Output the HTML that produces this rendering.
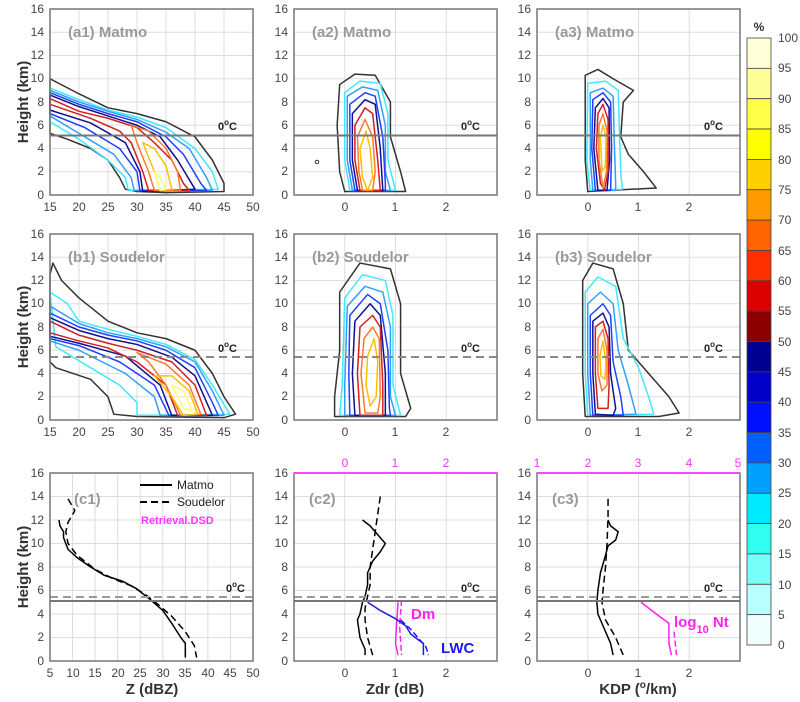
<!DOCTYPE html>
<html><head><meta charset="utf-8"><style>
html,body{margin:0;padding:0;background:#fff;}
svg{display:block;font-family:"Liberation Sans",sans-serif;}
.c{fill:none;stroke-width:1.5;vector-effect:non-scaling-stroke;stroke-linejoin:round;}
.g{stroke:#ddd;stroke-width:1;vector-effect:non-scaling-stroke;}
.t{font-size:12px;fill:#444;}
.tt{font-size:15px;font-weight:bold;fill:#999;}
.yl{font-size:15px;font-weight:bold;fill:#333;}
.fr{fill:none;stroke:#777;stroke-width:1.5;}
.oc{font-size:11px;font-weight:bold;fill:#222;}
</style></head><body>
<svg width="800" height="702" viewBox="0 0 800 702">
<defs>
<g id="gr1"><path class="g" d="M20,0V16M25,0V16M30,0V16M35,0V16M40,0V16M45,0V16M15,2H50M15,4H50M15,6H50M15,8H50M15,10H50M15,12H50M15,14H50"/></g>
<g id="gr2"><path class="g" d="M0,0V16M1,0V16M2,0V16M-1,2H3M-1,4H3M-1,6H3M-1,8H3M-1,10H3M-1,12H3M-1,14H3"/></g>
</defs>

<!-- ========== ROW A ========== -->
<g transform="translate(50,195) scale(5.8,-11.625) translate(-15,0)">
<use href="#gr1"/>
<polygon class="c" stroke="#333" points="15,10 20,8.7 25,7.5 30,7 35,6.3 40,5 43,3 45,1 45,0.3 35,0.2 30,0.3 28,0.5 27,1.5 25,3 22,4 18,4.8 15,5.3"/>
<polygon class="c" stroke="#40e8ff" points="15,9.2 20,8.2 25,7.3 30,6.7 35,5.8 40,4 43,2 44,0.5 28.5,0.4 28,1.5 25,3 20,4.8 15,6.3"/>
<polygon class="c" stroke="#30a0ff" points="15,9 20,8 25,7.2 30,6.5 35,5.4 39,4 42,1.5 43,0.4 29.5,0.4 29,1.5 26,3.5 20,5.3 15,6.8"/>
<polygon class="c" stroke="#2040ff" points="15,8.8 20,7.8 25,7 30,6.3 35,5 38,3.5 41,1 42,0.4 30.5,0.4 30,2 27,4 21,5.8 15,7"/>
<polygon class="c" stroke="#101090" points="15,8.6 20,7.6 25,6.8 30,6 34,5 37,3 40,0.5 31,0.3 30.5,2 28,4.5 22,6.2 15,7.3"/>
<polygon class="c" stroke="#d02020" points="15,8.3 20,7.2 25,6.6 30,5.8 33,4.5 36,3 38,1 39,0.4 32,0.4 31,2 29,4.5 27,5.5 22,6.6 15,7.8"/>
<polygon class="c" stroke="#ff7a30" points="29,6 32,5.5 35,4 37,2 37.5,0.4 33,0.4 32,2 30,4.5"/>
<polygon class="c" stroke="#ffc000" points="31,4.5 33,4 35,2.5 36,0.5 34,0.4 33,2"/>
<polygon class="c" stroke="#ffff70" points="33,2 34,1.5 35,0.5 34,0.4"/>
</g>
<line x1="50" y1="135.5" x2="253" y2="135.5" stroke="#777" stroke-width="2"/>
<text x="218" y="130" class="oc">0<tspan dy="-5" font-size="8">o</tspan><tspan dy="5">C</tspan></text>
<rect class="fr" x="50" y="9" width="203" height="186"/>
<text class="tt" x="68" y="37">(a1) Matmo</text>

<g transform="translate(294,195) scale(50.75,-11.625) translate(1,0)">
<use href="#gr2"/>
<polygon class="c" stroke="#333" points="-0.1,9.5 0.2,10.4 0.6,10.3 0.9,8 0.9,5 1.1,2 1.2,0.3 0,0.3 -0.1,2 -0.15,6"/>
<polygon class="c" stroke="#40e8ff" points="0,8.8 0.3,9.8 0.7,9.6 0.85,7 0.85,3 1,0.4 0.1,0.4 0,3"/>
<polygon class="c" stroke="#30a0ff" points="0.05,8.5 0.35,9.3 0.65,9 0.8,6 0.8,2 0.9,0.4 0.15,0.4 0.05,3"/>
<polygon class="c" stroke="#2040ff" points="0.1,7.8 0.4,8.8 0.6,8.5 0.75,5 0.8,1 0.8,0.4 0.2,0.4 0.1,3"/>
<polygon class="c" stroke="#101090" points="0.15,7 0.4,8.2 0.6,7.8 0.7,4 0.75,0.4 0.25,0.4 0.15,3"/>
<polygon class="c" stroke="#d02020" points="0.2,6 0.4,7.5 0.55,7 0.65,3 0.7,0.4 0.3,0.4 0.2,3"/>
<polygon class="c" stroke="#ff7a30" points="0.25,5 0.4,6.5 0.55,5 0.6,2 0.55,0.4 0.35,0.4 0.28,2"/>
<polygon class="c" stroke="#ffc000" points="0.3,4 0.42,5.5 0.5,4 0.55,1.5 0.45,0.4 0.35,1.5"/>
</g>
<circle cx="317" cy="162" r="1.8" fill="none" stroke="#333"/>
<line x1="294" y1="135.5" x2="497" y2="135.5" stroke="#777" stroke-width="2"/>
<text x="461" y="130" class="oc">0<tspan dy="-5" font-size="8">o</tspan><tspan dy="5">C</tspan></text>
<rect class="fr" x="294" y="9" width="203" height="186"/>
<text class="tt" x="312" y="37">(a2) Matmo</text>

<g transform="translate(537,195) scale(50.75,-11.625) translate(1,0)">
<use href="#gr2"/>
<polygon class="c" stroke="#333" points="-0.05,10.3 0.2,10.8 0.5,10 0.9,9 0.7,8 0.65,5 0.8,3.5 1.1,2 1.35,0.6 0,0.3 -0.05,3"/>
<polygon class="c" stroke="#40e8ff" points="0,9.6 0.35,9.8 0.6,9 0.62,6 0.65,2 0.68,0.5 0.05,0.4 -0.02,3"/>
<polygon class="c" stroke="#30a0ff" points="0.05,8.8 0.3,9.2 0.5,8.5 0.52,5 0.55,1 0.55,0.4 0.1,0.4 0.05,3"/>
<polygon class="c" stroke="#2040ff" points="0.1,8.2 0.3,8.8 0.45,8 0.47,4 0.45,0.4 0.15,0.4 0.08,4"/>
<polygon class="c" stroke="#101090" points="0.15,7.5 0.3,8.3 0.42,7.5 0.43,3 0.38,0.4 0.2,0.4 0.12,4"/>
<polygon class="c" stroke="#d02020" points="0.2,7 0.3,7.8 0.4,6.5 0.4,2 0.33,0.4 0.25,1 0.17,4"/>
<polygon class="c" stroke="#ff7a30" points="0.22,6 0.3,7 0.38,5.5 0.37,2 0.3,0.6 0.22,3"/>
<polygon class="c" stroke="#ffc000" points="0.25,5 0.3,6 0.36,5 0.35,2.5 0.28,2"/>
</g>
<line x1="537" y1="135.5" x2="740" y2="135.5" stroke="#777" stroke-width="2"/>
<text x="704" y="130" class="oc">0<tspan dy="-5" font-size="8">o</tspan><tspan dy="5">C</tspan></text>
<rect class="fr" x="537" y="9" width="203" height="186"/>
<text class="tt" x="555" y="37">(a3) Matmo</text>

<!-- ========== ROW B ========== -->
<g transform="translate(50,420) scale(5.8,-11.625) translate(-15,0)">
<use href="#gr1"/>
<polygon class="c" stroke="#333" points="15,12.5 15.5,13.5 17,12 20,10.5 25,8.5 30,7.5 35,7 40,6 43,4 45,2 47,0.5 45,0.2 30,0.3 26,0.5 25,2 22,3.5 16,4.5 15,5"/>
<polygon class="c" stroke="#40e8ff" points="15,11 18,10 20,8.5 25,7.8 30,7.2 35,6.5 40,5.2 43,3 46,0.5 30,0.4 30,1.5 27,3 22,4.5 16,6.3"/>
<polygon class="c" stroke="#30a0ff" points="15,9.8 20,8.3 25,7.5 30,7 35,6.3 40,5 43,2.5 45,0.4 34,0.4 33,2 28,4 20,6 15,6.8"/>
<polygon class="c" stroke="#2040ff" points="15,9.2 20,8 25,7.3 30,6.8 35,6 40,4.5 43,1.5 44,0.4 35.5,0.4 33,3 27,5 20,6.4 15,7"/>
<polygon class="c" stroke="#101090" points="15,8.8 20,7.7 25,7 30,6.5 36,5.4 40,3.8 43,0.4 36,0.4 34,3 28,5.5 20,6.6 15,7.2"/>
<polygon class="c" stroke="#d02020" points="15,8.5 20,7.3 25,6.6 30,6 36,5 40,3 42,0.4 37,0.4 35,3 30,5 25,6.2 20,6.8 15,7.5"/>
<polygon class="c" stroke="#ff7a30" points="30,5.8 35,4.8 39,3 41,0.5 37.5,0.4 35,3 32,5"/>
<polygon class="c" stroke="#ffc000" points="33,3.8 36,3.8 39,2.5 40.5,0.5 38,0.4 36,2"/>
<polygon class="c" stroke="#ffff70" points="36,3 38,2.5 39.5,0.8 38,1"/>
</g>
<line x1="50" y1="357" x2="253" y2="357" stroke="#888" stroke-width="2" stroke-dasharray="8,5"/>
<text x="218" y="352" class="oc">0<tspan dy="-5" font-size="8">o</tspan><tspan dy="5">C</tspan></text>
<rect class="fr" x="50" y="234" width="203" height="186"/>
<text class="tt" x="68" y="262">(b1) Soudelor</text>

<g transform="translate(294,420) scale(50.75,-11.625) translate(1,0)">
<use href="#gr2"/>
<polygon class="c" stroke="#333" points="-0.1,11 0.3,13.5 0.9,13 1.1,10 1.1,4 1.3,1 1.2,0.3 -0.2,0.3 -0.2,2 -0.1,6"/>
<polygon class="c" stroke="#40e8ff" points="0,10.5 0.35,12.5 0.8,12 0.95,9 0.95,3 1.1,0.4 -0.1,0.4 -0.05,3"/>
<polygon class="c" stroke="#30a0ff" points="0.05,9.8 0.4,11.5 0.75,11 0.9,8 0.9,2 1,0.4 0,0.4 0,3"/>
<polygon class="c" stroke="#2040ff" points="0.1,9 0.45,10.8 0.7,10 0.85,6 0.88,1 0.9,0.4 0.1,0.4 0.08,4"/>
<polygon class="c" stroke="#101090" points="0.2,8.5 0.5,10 0.7,9 0.8,4 0.8,0.4 0.2,0.4 0.15,4"/>
<polygon class="c" stroke="#d02020" points="0.3,8 0.55,9 0.7,8 0.75,3 0.75,0.4 0.3,0.4 0.25,4"/>
<polygon class="c" stroke="#ff7a30" points="0.38,7 0.55,8 0.68,7 0.7,2 0.65,0.6 0.4,0.6 0.32,4"/>
<polygon class="c" stroke="#ffc000" points="0.45,5.5 0.58,7 0.65,5 0.62,2 0.5,1.2 0.42,3"/>
</g>
<line x1="294" y1="357" x2="497" y2="357" stroke="#888" stroke-width="2" stroke-dasharray="8,5"/>
<text x="461" y="352" class="oc">0<tspan dy="-5" font-size="8">o</tspan><tspan dy="5">C</tspan></text>
<rect class="fr" x="294" y="234" width="203" height="186"/>
<text class="tt" x="312" y="262">(b2) Soudelor</text>

<g transform="translate(537,420) scale(50.75,-11.625) translate(1,0)">
<use href="#gr2"/>
<polygon class="c" stroke="#333" points="-0.1,12 0.1,13.5 0.5,13 0.7,10 0.8,6 1.2,4 1.6,2 1.8,0.6 1.4,0.3 -0.05,0.3 -0.1,4"/>
<polygon class="c" stroke="#40e8ff" points="-0.05,11 0.2,12.3 0.55,11.5 0.7,7 1,4.5 1.2,2 1.3,0.5 0,0.4 -0.05,4"/>
<polygon class="c" stroke="#30a0ff" points="0,10 0.25,11 0.5,10 0.6,6 0.8,3 0.95,0.5 0.05,0.4 0,4"/>
<polygon class="c" stroke="#2040ff" points="0.05,9 0.3,10 0.45,9 0.5,5 0.65,2 0.7,0.4 0.1,0.4 0.05,4"/>
<polygon class="c" stroke="#101090" points="0.1,8.5 0.3,9.2 0.42,8 0.45,4 0.55,1 0.5,0.4 0.15,0.5 0.1,4"/>
<polygon class="c" stroke="#d02020" points="0.15,8 0.3,8.5 0.4,7 0.42,3 0.4,1 0.2,1 0.15,4"/>
<polygon class="c" stroke="#ff7a30" points="0.2,7 0.3,7.8 0.38,6 0.38,3 0.28,2.5 0.2,4"/>
<polygon class="c" stroke="#ffc000" points="0.24,5.5 0.3,6.8 0.36,5 0.34,3.5 0.26,3.8"/>
</g>
<line x1="537" y1="357" x2="740" y2="357" stroke="#888" stroke-width="2" stroke-dasharray="8,5"/>
<text x="704" y="352" class="oc">0<tspan dy="-5" font-size="8">o</tspan><tspan dy="5">C</tspan></text>
<rect class="fr" x="537" y="234" width="203" height="186"/>
<text class="tt" x="555" y="262">(b3) Soudelor</text>

<!-- ========== ROW C ========== -->
<g transform="translate(50,661) scale(4.511,-11.75) translate(-5,0)">
<path class="g" d="M10,0V16M15,0V16M20,0V16M25,0V16M30,0V16M35,0V16M40,0V16M45,0V16M5,2H50M5,4H50M5,6H50M5,8H50M5,10H50M5,12H50M5,14H50"/>
<polyline class="c" stroke="#000" stroke-width="2" points="7,12 7.2,11.5 8,11 8,10.5 9,9.5 11,8.8 14,8 17,7.3 21,6.8 24,6.2 27,5.3 30,4.3 32,3.2 34,2 35,1.5 35,0.3"/>
<polyline class="c" stroke="#000" stroke-width="2" stroke-dasharray="7,4" points="9,13.8 10.5,12.8 9,11.8 8.5,11 9,10 11,9 15,7.8 19,7 23,6.4 26,5.7 29,4.8 32,3.8 35,2.5 37,1.3 37.5,0.3"/>
</g>
<line x1="50" y1="601" x2="253" y2="601" stroke="#777" stroke-width="2"/>
<line x1="50" y1="597" x2="253" y2="597" stroke="#999" stroke-width="2" stroke-dasharray="8,5"/>
<text x="226" y="592" class="oc">0<tspan dy="-5" font-size="8">o</tspan><tspan dy="5">C</tspan></text>
<rect class="fr" x="50" y="473" width="203" height="188"/>
<text class="tt" x="74" y="504">(c1)</text>
<line x1="140" y1="485" x2="172" y2="485" stroke="#000" stroke-width="2"/>
<text x="177" y="489" font-size="12" fill="#222">Matmo</text>
<line x1="140" y1="502" x2="172" y2="502" stroke="#000" stroke-width="2" stroke-dasharray="7,4"/>
<text x="177" y="506" font-size="12" fill="#222">Soudelor</text>
<text x="141" y="524" font-size="11" font-weight="bold" fill="#ff33ff">Retrieval.DSD</text>

<g transform="translate(294,661) scale(50.75,-11.75) translate(1,0)">
<use href="#gr2"/>
<polyline class="c" stroke="#000" stroke-width="2" points="0.35,12 0.5,11.5 0.6,11 0.8,10 0.7,9.3 0.55,8.5 0.45,7.5 0.45,6.5 0.4,5.5 0.35,5 0.3,4 0.25,3.5 0.3,2 0.4,1 0.4,0.5"/>
<polyline class="c" stroke="#000" stroke-width="2" stroke-dasharray="7,4" points="0.7,14 0.65,12.5 0.6,11 0.55,9.5 0.5,8 0.5,6.5 0.45,5.5 0.4,4.5 0.4,3.5 0.45,2 0.55,0.5"/>
<polyline class="c" stroke="#ff22ee" stroke-width="2" points="1.05,5 1.02,3 1,1.5 1.05,0.5"/>
<polyline class="c" stroke="#ff22ee" stroke-width="2" stroke-dasharray="6,3" points="1.12,5.2 1.08,3 1.12,0.5"/>
<polyline class="c" stroke="#1a1aee" stroke-width="2" points="0.45,5 0.7,4.3 1,3.6 1.2,3 1.3,2.3 1.45,1.8 1.55,1.5 1.55,0.5"/>
<polyline class="c" stroke="#1a1aee" stroke-width="2" stroke-dasharray="6,3" points="1.1,3.5 1.3,2.7 1.6,1.2 1.65,0.5"/>
</g>
<line x1="294" y1="601" x2="497" y2="601" stroke="#777" stroke-width="2"/>
<line x1="294" y1="597" x2="497" y2="597" stroke="#999" stroke-width="2" stroke-dasharray="8,5"/>
<text x="461" y="592" class="oc">0<tspan dy="-5" font-size="8">o</tspan><tspan dy="5">C</tspan></text>
<rect class="fr" x="294" y="473" width="203" height="188"/>
<line x1="294" y1="473" x2="497" y2="473" stroke="#ff44ff" stroke-width="2"/>
<text class="tt" x="309" y="504">(c2)</text>
<text x="411" y="619" font-size="15" font-weight="bold" fill="#ff22ee">Dm</text>
<text x="441" y="653" font-size="15" font-weight="bold" fill="#1a1aee">LWC</text>

<g transform="translate(537,661) scale(50.75,-11.75) translate(1,0)">
<use href="#gr2"/>
<polyline class="c" stroke="#000" stroke-width="2" points="0.4,12 0.45,11.5 0.6,11 0.55,10.3 0.4,9.8 0.35,9 0.25,7.5 0.2,6 0.18,5 0.2,4 0.3,3 0.45,1.5 0.5,0.5"/>
<polyline class="c" stroke="#000" stroke-width="2" stroke-dasharray="7,4" points="0.4,13.8 0.4,12.3 0.38,10 0.35,8 0.3,6 0.28,5 0.35,3.5 0.55,2 0.7,0.5"/>
<polyline class="c" stroke="#ff22ee" stroke-width="2" points="1.05,5 1.35,4 1.6,3.2 1.6,1.5 1.65,0.5"/>
<polyline class="c" stroke="#ff22ee" stroke-width="2" stroke-dasharray="6,3" points="1.7,2.5 1.75,0.5"/>
</g>
<line x1="537" y1="601" x2="740" y2="601" stroke="#777" stroke-width="2"/>
<line x1="537" y1="597" x2="740" y2="597" stroke="#999" stroke-width="2" stroke-dasharray="8,5"/>
<text x="704" y="592" class="oc">0<tspan dy="-5" font-size="8">o</tspan><tspan dy="5">C</tspan></text>
<rect class="fr" x="537" y="473" width="203" height="188"/>
<line x1="537" y1="473" x2="740" y2="473" stroke="#ff44ff" stroke-width="2"/>
<text class="tt" x="552" y="504">(c3)</text>
<text x="674" y="627" font-size="15" font-weight="bold" fill="#ff22ee">log<tspan font-size="11" dy="6">10</tspan><tspan dy="-6"> Nt</tspan></text>

<!-- tick labels -->
<g class="t" text-anchor="end">
<text x="44" y="13">16</text><text x="44" y="36">14</text><text x="44" y="59">12</text><text x="44" y="82">10</text><text x="44" y="106">8</text><text x="44" y="129">6</text><text x="44" y="152">4</text><text x="44" y="175">2</text><text x="44" y="199">0</text>
<text x="288" y="13">16</text><text x="288" y="36">14</text><text x="288" y="59">12</text><text x="288" y="82">10</text><text x="288" y="106">8</text><text x="288" y="129">6</text><text x="288" y="152">4</text><text x="288" y="175">2</text><text x="288" y="199">0</text>
<text x="531" y="13">16</text><text x="531" y="36">14</text><text x="531" y="59">12</text><text x="531" y="82">10</text><text x="531" y="106">8</text><text x="531" y="129">6</text><text x="531" y="152">4</text><text x="531" y="175">2</text><text x="531" y="199">0</text>

<text x="44" y="238">16</text><text x="44" y="261">14</text><text x="44" y="284">12</text><text x="44" y="307">10</text><text x="44" y="331">8</text><text x="44" y="354">6</text><text x="44" y="377">4</text><text x="44" y="400">2</text><text x="44" y="424">0</text>
<text x="288" y="238">16</text><text x="288" y="261">14</text><text x="288" y="284">12</text><text x="288" y="307">10</text><text x="288" y="331">8</text><text x="288" y="354">6</text><text x="288" y="377">4</text><text x="288" y="400">2</text><text x="288" y="424">0</text>
<text x="531" y="238">16</text><text x="531" y="261">14</text><text x="531" y="284">12</text><text x="531" y="307">10</text><text x="531" y="331">8</text><text x="531" y="354">6</text><text x="531" y="377">4</text><text x="531" y="400">2</text><text x="531" y="424">0</text>

<text x="44" y="477">16</text><text x="44" y="500">14</text><text x="44" y="524">12</text><text x="44" y="547">10</text><text x="44" y="571">8</text><text x="44" y="594">6</text><text x="44" y="618">4</text><text x="44" y="641">2</text><text x="44" y="665">0</text>
<text x="288" y="477">16</text><text x="288" y="500">14</text><text x="288" y="524">12</text><text x="288" y="547">10</text><text x="288" y="571">8</text><text x="288" y="594">6</text><text x="288" y="618">4</text><text x="288" y="641">2</text><text x="288" y="665">0</text>
<text x="531" y="477">16</text><text x="531" y="500">14</text><text x="531" y="524">12</text><text x="531" y="547">10</text><text x="531" y="571">8</text><text x="531" y="594">6</text><text x="531" y="618">4</text><text x="531" y="641">2</text><text x="531" y="665">0</text>
</g>
<g class="t" text-anchor="middle">
<text x="50" y="211">15</text><text x="79" y="211">20</text><text x="108" y="211">25</text><text x="137" y="211">30</text><text x="166" y="211">35</text><text x="195" y="211">40</text><text x="224" y="211">45</text><text x="253" y="211">50</text>
<text x="345" y="211">0</text><text x="395" y="211">1</text><text x="446" y="211">2</text>
<text x="588" y="211">0</text><text x="638" y="211">1</text><text x="689" y="211">2</text>
<text x="50" y="436">15</text><text x="79" y="436">20</text><text x="108" y="436">25</text><text x="137" y="436">30</text><text x="166" y="436">35</text><text x="195" y="436">40</text><text x="224" y="436">45</text><text x="253" y="436">50</text>
<text x="345" y="436">0</text><text x="395" y="436">1</text><text x="446" y="436">2</text>
<text x="588" y="436">0</text><text x="638" y="436">1</text><text x="689" y="436">2</text>
<text x="50" y="677">5</text><text x="73" y="677">10</text><text x="95" y="677">15</text><text x="118" y="677">20</text><text x="140" y="677">25</text><text x="163" y="677">30</text><text x="185" y="677">35</text><text x="208" y="677">40</text><text x="230" y="677">45</text><text x="253" y="677">50</text>
<text x="345" y="677">0</text><text x="395" y="677">1</text><text x="446" y="677">2</text>
<text x="588" y="677">0</text><text x="638" y="677">1</text><text x="689" y="677">2</text>
</g>
<g class="t" text-anchor="middle" style="fill:#ff33ff">
<text x="345" y="467">0</text><text x="395" y="467">1</text><text x="446" y="467">2</text>
<text x="537" y="467">1</text><text x="588" y="467">2</text><text x="638" y="467">3</text><text x="689" y="467">4</text><text x="738" y="467">5</text>
</g>

<!-- axis labels -->
<text class="yl" transform="translate(28,102) rotate(-90)" text-anchor="middle">Height (km)</text>
<text class="yl" transform="translate(28,327) rotate(-90)" text-anchor="middle">Height (km)</text>
<text class="yl" transform="translate(28,567) rotate(-90)" text-anchor="middle">Height (km)</text>
<text class="yl" x="152" y="694" text-anchor="middle">Z (dBZ)</text>
<text class="yl" x="395" y="694" text-anchor="middle">Zdr (dB)</text>
<text class="yl" x="638" y="694" text-anchor="middle">KDP (<tspan font-size="10" dy="-6">o</tspan><tspan dy="6">/km)</tspan></text>

<!-- colorbar -->
<g stroke="#444" stroke-width="0.8">
<rect x="747" y="38" width="24" height="30.35" fill="#ffffd8"/>
<rect x="747" y="68.35" width="24" height="30.35" fill="#ffff98"/>
<rect x="747" y="98.7" width="24" height="30.35" fill="#ffff48"/>
<rect x="747" y="129.05" width="24" height="30.35" fill="#ffff00"/>
<rect x="747" y="159.4" width="24" height="30.35" fill="#ffd000"/>
<rect x="747" y="189.75" width="24" height="30.35" fill="#ff9a00"/>
<rect x="747" y="220.1" width="24" height="30.35" fill="#ff6400"/>
<rect x="747" y="250.45" width="24" height="30.35" fill="#ff3000"/>
<rect x="747" y="280.8" width="24" height="30.35" fill="#dc0000"/>
<rect x="747" y="311.15" width="24" height="30.35" fill="#8a0000"/>
<rect x="747" y="341.5" width="24" height="30.35" fill="#00008f"/>
<rect x="747" y="371.85" width="24" height="30.35" fill="#0000c8"/>
<rect x="747" y="402.2" width="24" height="30.35" fill="#0010ff"/>
<rect x="747" y="432.55" width="24" height="30.35" fill="#0060ff"/>
<rect x="747" y="462.9" width="24" height="30.35" fill="#00a0ff"/>
<rect x="747" y="493.25" width="24" height="30.35" fill="#00eaff"/>
<rect x="747" y="523.6" width="24" height="30.35" fill="#30fff0"/>
<rect x="747" y="553.95" width="24" height="30.35" fill="#78fffa"/>
<rect x="747" y="584.3" width="24" height="30.35" fill="#b8ffff"/>
<rect x="747" y="614.65" width="24" height="30.35" fill="#eefffe"/>
</g>
<text x="759" y="31" text-anchor="middle" font-size="12" font-weight="bold" fill="#333">%</text>
<g font-size="12" fill="#444">
<text x="778" y="42">100</text><text x="778" y="72">95</text><text x="778" y="103">90</text><text x="778" y="133">85</text><text x="778" y="164">80</text><text x="778" y="194">75</text><text x="778" y="224">70</text><text x="778" y="255">65</text><text x="778" y="285">60</text><text x="778" y="315">55</text><text x="778" y="346">50</text><text x="778" y="376">45</text><text x="778" y="406">40</text><text x="778" y="437">35</text><text x="778" y="467">30</text><text x="778" y="497">25</text><text x="778" y="528">20</text><text x="778" y="558">15</text><text x="778" y="589">10</text><text x="778" y="619">5</text><text x="778" y="649">0</text>
</g>
</svg>
</body></html>
